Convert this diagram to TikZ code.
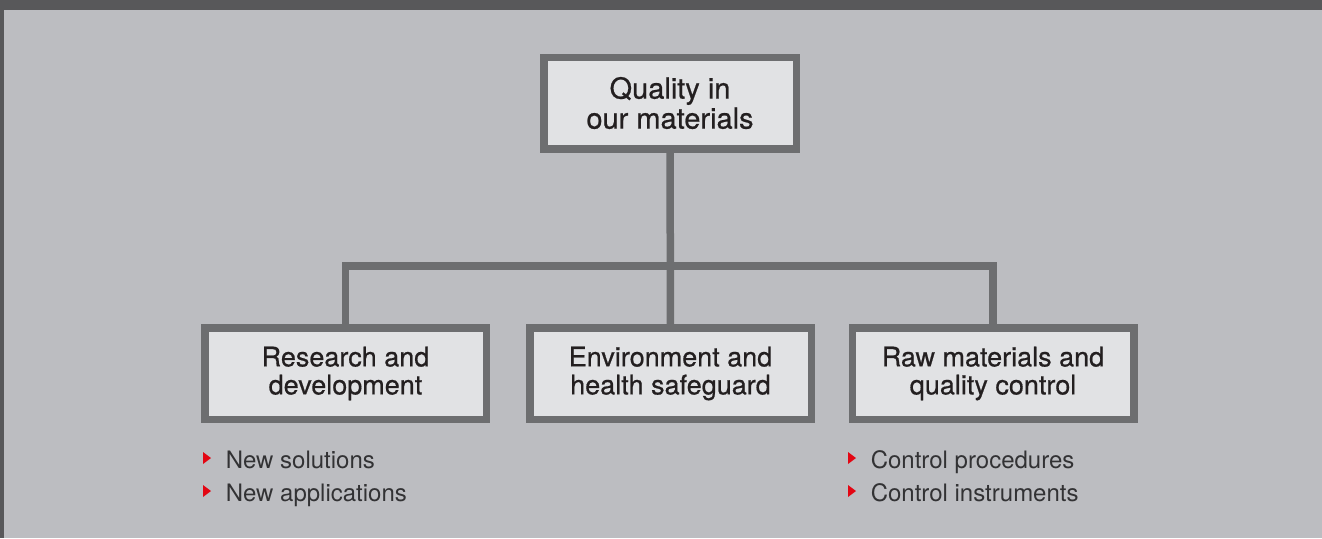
\documentclass[tikz,border=0pt]{standalone}
\usepackage{fontspec}
\setmainfont{TeX Gyre Heros}
\newfontfamily\boxfont{TeX Gyre Heros}[FakeBold=0.6]
\definecolor{framegray}{RGB}{88,88,90}
\definecolor{panelgray}{RGB}{188,189,193}
\definecolor{linegray}{RGB}{109,110,112}
\definecolor{boxfill}{RGB}{225,226,228}
\definecolor{inktext}{RGB}{35,31,32}
\definecolor{itemtext}{RGB}{50,50,52}
\definecolor{bulletred}{RGB}{227,6,19}
\tikzset{every picture/.style={line width=0.75pt},
  orgbox/.style={draw=linegray,line width=3.75pt,fill=boxfill,text=inktext,align=center,
    inner sep=0pt,minimum width=140.75pt,minimum height=45.75pt,font=\boxfont\fontsize{13.5}{14}\selectfont},
  link/.style={draw=linegray,line width=3.75pt},
  item/.style={anchor=base west,inner sep=0pt,text=itemtext,font=\fontsize{12}{14}\selectfont}}

\begin{document}
\begin{tikzpicture}[x=0.5pt,y=0.5pt,yscale=-1]
%Shape: Frame and panel
\fill[framegray] (0,0) rectangle (1322,538);
\fill[panelgray] (4,10) rectangle (1322,538);
\useasboundingbox (0,0) rectangle (1322,538);
%Shape: Rectangle [top]
\node[orgbox,minimum width=126.25pt,font=\boxfont\fontsize{14.5}{15}\selectfont] (top) at (670,103) {Quality in\\our materials};
%Shape: Rectangle [row]
\node[orgbox] (rnd) at (345.5,373.5) {Research and\\development};
\node[orgbox] (env) at (670.5,373.5) {Environment and\\health safeguard};
\node[orgbox] (raw) at (993,373.5) {Raw materials and\\quality control};
%Straight Lines
\coordinate (bus) at (670,266);
\draw[link] (top) -- (env);
\draw[link] (rnd.north) |- (bus) -| (raw.north);
% Text Node
\foreach \nm/\x/\y/\txt in {ns/225/468/New solutions,na/225/501/New applications,
  cp/870/468/Control procedures,ci/870/501/Control instruments}{
  \node[item] (\nm) at (\x,\y) {\txt};
  \fill[bulletred] ({\x-22},{\y-16}) -- ({\x-14},{\y-10}) -- ({\x-22},{\y-4}) -- cycle;
}
\end{tikzpicture}
\end{document}
